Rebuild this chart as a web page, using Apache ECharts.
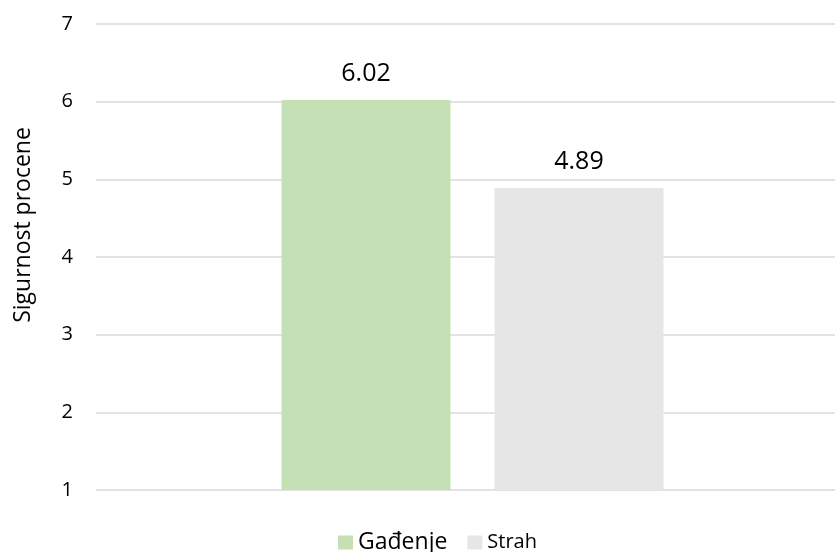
<!DOCTYPE html>
<html><head><meta charset="utf-8">
<script src="https://cdn.jsdelivr.net/npm/echarts@6/dist/echarts.min.js"></script>
<style>html,body{margin:0;padding:0;background:#fff}#c{width:835px;height:552px}</style>
</head><body><div id="c"></div>
<script>
const categories = [''];
const seriesNames = ['Gađenje', 'Strah'];
const gadjenje = [6.02];
const strah = [4.89];
const yTicks = [1, 7, 1];
const FONT = '"Open Sans", sans-serif';
const chart = echarts.init(document.getElementById('c'));
chart.setOption({
  animation: false,
  textStyle: { fontFamily: FONT },
  grid: { left: 96, width: 753, top: 24, height: 466, outerBoundsMode: 'none', containLabel: false },
  legend: {
    top: 526, left: 333, itemWidth: 15, itemHeight: 14, itemGap: 20,
    icon: 'rect',
    data: [
      { name: seriesNames[0], textStyle: { fontSize: 23, color: '#000', fontFamily: FONT } },
      { name: seriesNames[1], textStyle: { fontSize: 20, color: '#000', fontFamily: FONT } }
    ]
  },
  xAxis: {
    type: 'category', data: categories,
    axisLine: { show: false }, axisTick: { show: false }, axisLabel: { show: false }
  },
  yAxis: {
    type: 'value', min: yTicks[0], max: yTicks[1], interval: yTicks[2],
    name: 'Sigurnost procene', nameLocation: 'middle', nameGap: 61,
    nameTextStyle: { fontSize: 23, color: '#000', fontFamily: FONT, padding: [0, 0, 0, 64] },
    axisLabel: { fontSize: 20, color: '#000', margin: 23, fontFamily: FONT },
    splitLine: { lineStyle: { color: '#d9d9d9', width: 1.5 } },
    axisLine: { show: false }, axisTick: { show: false }
  },
  series: [
    { name: seriesNames[0], type: 'bar', data: gadjenje, barWidth: 169, barGap: '26%',
      itemStyle: { color: '#c5e0b4' },
      label: { show: true, position: 'top', distance: 14, fontSize: 25, color: '#000', fontFamily: FONT, formatter: p => p.value.toFixed(2) } },
    { name: seriesNames[1], type: 'bar', data: strah, barWidth: 169,
      itemStyle: { color: '#e7e6e6' },
      label: { show: true, position: 'top', distance: 14, fontSize: 25, color: '#000', fontFamily: FONT, formatter: p => p.value.toFixed(2) } }
  ]
});
</script></body></html>
